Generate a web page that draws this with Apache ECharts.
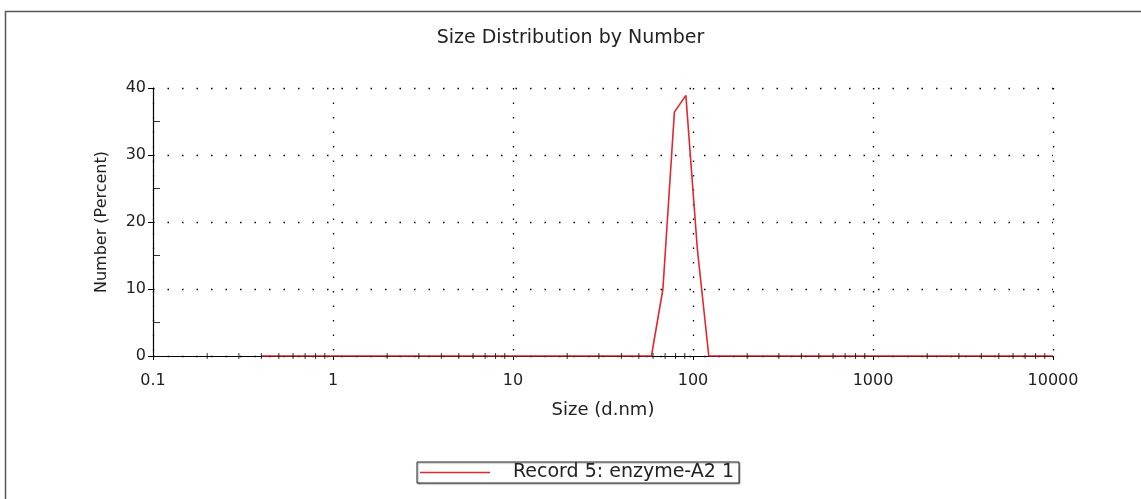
<!DOCTYPE html>
<html>
<head>
<meta charset="utf-8">
<script src="https://cdn.jsdelivr.net/npm/echarts@6/dist/echarts.min.js"></script>
<style>
html,body{margin:0;padding:0;background:#fff;}
#chart{width:1141px;height:499px;}
</style>
</head>
<body>
<div id="chart"></div>
<script>
// Data
const titleText = 'Size Distribution by Number';
const seriesName = 'Record 5: enzyme-A2 1';
const sizes  = [0.4, 58.77, 68.06, 78.82, 91.28, 105.7, 122.4, 10000];
const values = [0,   0,     10.0,  36.4,  38.9,  16.0,  0,     0];
const xTickLabels = ['0.1', '1', '10', '100', '1000', '10000'];
const yTicks = [0, 10, 20, 30, 40];
const yMinorTicks = [5, 15, 25, 35];
const xMinorMultipliers = [2, 3, 4, 5, 6, 7, 8, 9];
const decades = [0.1, 1, 10, 100, 1000];

const font = '"DejaVu Sans", "Liberation Sans", Arial, sans-serif';
const lineData = sizes.map((s, i) => [s, values[i]]);
const xMinor = [];
decades.forEach(d => xMinorMultipliers.forEach(m => xMinor.push([d * m, 0])));
const yMinor = yMinorTicks.map(v => [0.1, v]);

const chart = echarts.init(document.getElementById('chart'), null, {renderer: 'canvas'});
chart.setOption({
  animation: false,
  backgroundColor: '#fff',
  title: {
    text: titleText, left: 'center', top: 24,
    textStyle: {fontFamily: font, fontSize: 19, fontWeight: 'normal', color: '#222'}
  },
  graphic: [{
    type: 'rect', left: 3, top: 9, silent: true,
    shape: {x: 0, y: 0, width: 1200, height: 600},
    style: {fill: 'none', stroke: '#555', lineWidth: 1.5}
  }],
  legend: {
    data: [{name: seriesName, icon: 'rect'}],
    left: 417, top: 462,
    itemWidth: 70, itemHeight: 1.5,
    padding: [1, 5, 1, 3],
    borderColor: '#222', borderWidth: 1,
    shadowColor: 'rgba(0,0,0,0.35)', shadowOffsetX: 1, shadowOffsetY: 1, shadowBlur: 1,
    backgroundColor: '#fff',
    textStyle: {fontFamily: font, fontSize: 19, color: '#222', padding: [0, 0, 0, 18]}
  },
  grid: {left: 153, right: 88, top: 88, bottom: 143},
  xAxis: {
    type: 'log', logBase: 10, min: 0.1, max: 10000,
    name: 'Size (d.nm)', nameLocation: 'middle', nameGap: 45,
    nameTextStyle: {fontFamily: font, fontSize: 18, color: '#222'},
    axisLine: {show: true, onZero: false, lineStyle: {color: '#000', width: 1.2}},
    axisTick: {show: true, length: 4, lineStyle: {color: '#000'}},
    axisLabel: {
      fontFamily: font, fontSize: 16, color: '#222', margin: 17,
      formatter: (v) => {
        const idx = Math.round(Math.log10(v)) + 1;
        return xTickLabels[idx] !== undefined ? xTickLabels[idx] : '';
      }
    },
    splitLine: {show: true, lineStyle: {color: '#000', width: 1.3, type: [1.5, 13]}}
  },
  yAxis: {
    type: 'value', min: 0, max: 40, interval: 10,
    name: 'Number (Percent)', nameLocation: 'middle', nameGap: 43,
    nameTextStyle: {fontFamily: font, fontSize: 16, color: '#222'},
    axisLine: {show: true, lineStyle: {color: '#000', width: 1.2}},
    axisTick: {show: true, length: 5, lineStyle: {color: '#000'}},
    axisLabel: {fontFamily: font, fontSize: 16, color: '#222', margin: 7,
      formatter: (v) => yTicks.includes(v) ? String(v) : ''},
    splitLine: {show: true, lineStyle: {color: '#000', width: 1.3, type: [1.5, 13]}}
  },
  series: [
    {
      name: seriesName, type: 'line', data: lineData,
      showSymbol: false, symbol: 'none',
      lineStyle: {color: '#e0282e', width: 1.6},
      itemStyle: {color: '#e0282e'},
      z: 5
    },
    {
      name: 'xminor', type: 'scatter', data: xMinor, silent: true, clip: false,
      symbol: 'rect', symbolSize: [1, 6], itemStyle: {color: '#000'}, z: 6
    },
    {
      name: 'yminor', type: 'scatter', data: yMinor, silent: true, clip: false,
      symbol: 'rect', symbolSize: [7, 1], symbolOffset: [3.5, 0], itemStyle: {color: '#000'}, z: 6
    }
  ]
});
</script>
</body>
</html>
